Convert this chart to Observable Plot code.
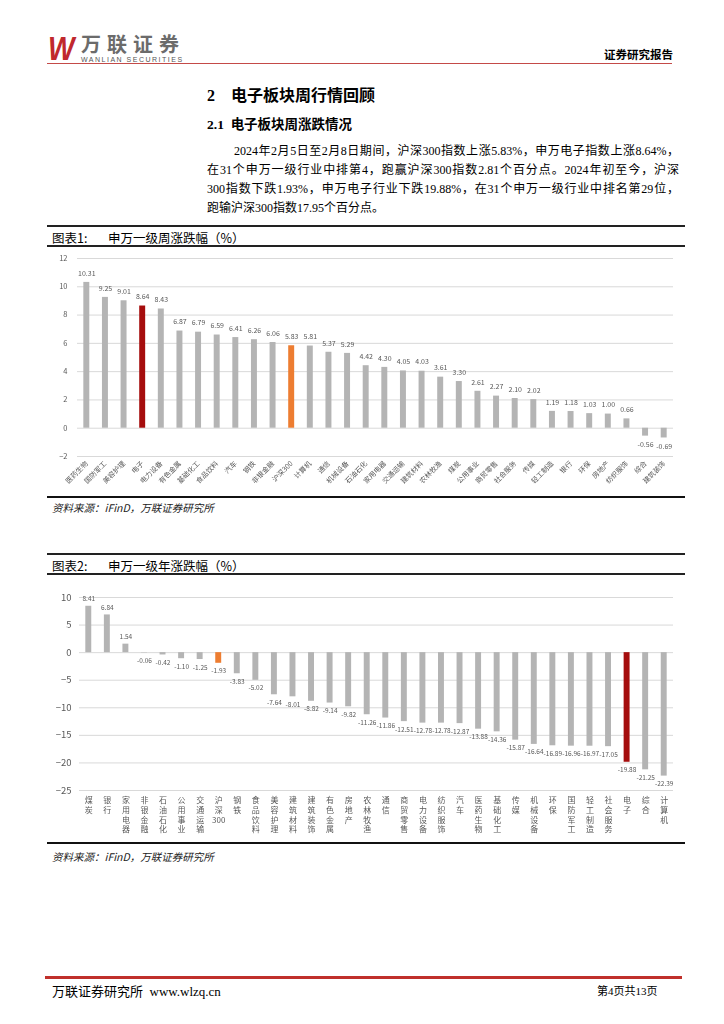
<!DOCTYPE html>
<html><head><meta charset="utf-8">
<script src="https://cdn.jsdelivr.net/npm/d3@7"></script>
<script src="https://cdn.jsdelivr.net/npm/@observablehq/plot@0.6"></script>
<style>
body{margin:0;width:724px;height:1024px;position:relative;background:#fff;font-family:"Liberation Serif","Noto Sans CJK SC",serif;color:#000;overflow:hidden}
.abs{position:absolute;white-space:nowrap}
.chart{will-change:transform;transform:translateZ(0)}
.para{position:absolute;left:207px;width:472px;font-size:12px;line-height:19px}
.para div{text-align:justify;text-align-last:justify;height:19px;white-space:nowrap}
.para div.last{text-align-last:left}
.tbox{position:absolute;left:47px;width:638px;border-top:2px solid #222;border-bottom:2.5px solid #222;height:18px}
.tbox span{position:absolute;top:1px;font-size:12.5px;font-family:"Noto Sans CJK SC",serif}
.endline{position:absolute;left:47px;width:638px;border-top:2.5px solid #111}
.src{position:absolute;left:52px;font-size:10.5px;font-style:italic;font-family:"Noto Sans CJK SC",serif;color:#222}
</style></head><body>
<!-- header -->
<div class="abs" style="left:48px;top:30px;font:italic 900 33px 'Liberation Sans',sans-serif;color:#c0282d;letter-spacing:-6px;transform:scaleX(0.85);transform-origin:left top">W</div>
<div class="abs" style="left:81px;top:33px;font:700 20px/21px 'Noto Sans CJK SC',sans-serif;color:#6b6b6b;letter-spacing:6px">万联证券</div>
<div class="abs" style="left:81px;top:56px;font:7px/7px 'Liberation Sans',sans-serif;color:#555;letter-spacing:1.5px">WANLIAN SECURITIES</div>
<div class="abs" style="left:604px;top:46px;font:700 11.5px 'Noto Sans CJK SC',serif">证券研究报告</div>
<div class="abs" style="left:47px;top:63px;width:625px;border-top:1.5px solid #c44a48"></div>

<div class="abs" style="left:207px;top:82px;font:700 16px 'Liberation Serif','Noto Sans CJK SC',serif">2&nbsp;&nbsp;&nbsp;&nbsp;电子板块周行情回顾</div>
<div class="abs" style="left:207px;top:113px;font:700 13.5px 'Liberation Serif','Noto Sans CJK SC',serif">2.1&nbsp;&nbsp;电子板块周涨跌情况</div>
<div class="para" style="top:142px">
<div style="padding-left:27px">2024年2月5日至2月8日期间，沪深300指数上涨5.83%，申万电子指数上涨8.64%，</div>
<div>在31个申万一级行业中排第4，跑赢沪深300指数2.81个百分点。2024年初至今，沪深</div>
<div>300指数下跌1.93%，申万电子行业下跌19.88%，在31个申万一级行业中排名第29位，</div>
<div class="last">跑输沪深300指数17.95个百分点。</div>
</div>

<div class="tbox" style="top:225px"><span style="left:5px">图表1:</span><span style="left:61px">申万一级周涨跌幅（%）</span></div>
<div id="c1" class="abs chart" style="left:0;top:250px"></div>
<div class="endline" style="top:496px"></div>
<div class="src" style="top:500px">资料来源：iFinD，万联证券研究所</div>

<div class="tbox" style="top:553px"><span style="left:5px">图表2:</span><span style="left:61px">申万一级年涨跌幅（%）</span></div>
<div id="c2" class="abs chart" style="left:0;top:585px"></div>
<div class="endline" style="top:842px"></div>
<div class="src" style="top:849px">资料来源：iFinD，万联证券研究所</div>

<div class="abs" style="left:45px;top:976px;width:637px;border-top:3px solid #c0302b"></div>
<div class="abs" style="left:52px;top:981px;font-size:13px;font-family:'Liberation Serif','Noto Sans CJK SC',serif">万联证券研究所&nbsp;&nbsp;www.wlzq.cn</div>
<div class="abs" style="left:597px;top:982px;font-size:11px;font-family:'Liberation Serif','Noto Sans CJK SC',serif">第4页共13页</div>

<script>
const weekCats = ["医药生物","国防军工","美容护理","电子","电力设备","有色金属","基础化工","食品饮料","汽车","钢铁","非银金融","沪深300","计算机","通信","机械设备","石油石化","家用电器","交通运输","建筑材料","农林牧渔","煤炭","公用事业","商贸零售","社会服务","传媒","轻工制造","银行","环保","房地产","纺织服饰","综合","建筑装饰"];
const weekVals = [10.31,9.25,9.01,8.64,8.43,6.87,6.79,6.59,6.41,6.26,6.06,5.83,5.81,5.37,5.29,4.42,4.30,4.05,4.03,3.61,3.30,2.61,2.27,2.10,2.02,1.19,1.18,1.03,1.00,0.66,-0.56,-0.69];
const weekTicks = [-2,0,2,4,6,8,10,12];

const yearCats = ["煤炭","银行","家用电器","非银金融","石油石化","公用事业","交通运输","沪深300","钢铁","食品饮料","美容护理","建筑材料","建筑装饰","有色金属","房地产","农林牧渔","通信","商贸零售","电力设备","纺织服饰","汽车","医药生物","基础化工","传媒","机械设备","环保","国防军工","轻工制造","社会服务","电子","综合","计算机"];
const yearVals = [8.41,6.84,1.54,-0.06,-0.42,-1.10,-1.25,-1.93,-3.83,-5.02,-7.64,-8.01,-8.82,-9.14,-9.82,-11.26,-11.86,-12.51,-12.78,-12.78,-12.87,-13.88,-14.36,-15.87,-16.64,-16.89,-16.96,-16.97,-17.05,-19.88,-21.25,-22.39];
const yearTicks = [-25,-20,-15,-10,-5,0,5,10];

const highlight = {"电子":"#a50d0d","沪深300":"#ed7d31"};
const barGray = "#b4b4b4";
const rows = (cats, vals) => cats.map((c,i)=>({cat:c, v:vals[i], color: highlight[c] ?? barGray}));
const week = rows(weekCats, weekVals);
const year = rows(yearCats, yearVals);
const fmt = d => d.v.toFixed(2);
const font = '"Noto Sans CJK SC","Liberation Sans",sans-serif';

const c1 = Plot.plot({
  width:724, height:245, marginTop:8, marginBottom:39, marginLeft:77, marginRight:51,
  style:{fontFamily:font, fontSize:"7px", color:"#595959", background:"#fff", overflow:"visible"},
  x:{domain:weekCats, paddingInner:0.68, paddingOuter:0.34, round:false, label:null},
  y:{domain:[-2,12], label:null},
  color:{type:"identity"},
  marks:[
    Plot.gridY(weekTicks,{stroke:"#d9d9d9", strokeOpacity:1}),
    Plot.axisY(weekTicks,{tickSize:0, tickPadding:10, fontSize:7.5, label:null}),
    Plot.axisX({tickSize:0, tickRotate:-45, tickPadding:6, fontSize:7, label:null}),
    Plot.barY(week,{x:"cat", y:"v", fill:"color"}),
    Plot.text(week.filter(d=>d.v>=0),{x:"cat", y:"v", text:fmt, dy:-9, fill:"#595959", fontSize:7}),
    Plot.text(week.filter(d=>d.v<0),{x:"cat", y:"v", text:fmt, dy:9, fill:"#595959", fontSize:7})
  ]
});
document.getElementById("c1").append(c1);

const c2 = Plot.plot({
  width:724, height:255, marginTop:12, marginBottom:50, marginLeft:79, marginRight:51,
  style:{fontFamily:font, fontSize:"8px", color:"#595959", background:"#fff", overflow:"visible"},
  x:{domain:yearCats, paddingInner:0.68, paddingOuter:0.34, round:false, label:null},
  y:{domain:[-25,10], label:null},
  color:{type:"identity"},
  marks:[
    Plot.gridY(yearTicks,{stroke:"#d9d9d9", strokeOpacity:1}),
    Plot.axisY(yearTicks,{tickSize:0, tickPadding:8, fontSize:9.5, label:null}),
    Plot.axisX({tickSize:0, tickPadding:6, fontSize:8, lineHeight:1.2, label:null,
      tickFormat: d => d === "沪深300" ? "沪\n深\n300" : d.split("").join("\n")}),
    Plot.barY(year,{x:"cat", y:"v", fill:"color"}),
    Plot.text(year.filter(d=>d.v>=0),{x:"cat", y:"v", text:fmt, dy:-7, fill:"#595959", fontSize:6.5}),
    Plot.text(year.filter(d=>d.v<0),{x:"cat", y:"v", text:fmt, dy:8, fill:"#595959", fontSize:6.5})
  ]
});
document.getElementById("c2").append(c2);
</script>
</body></html>
